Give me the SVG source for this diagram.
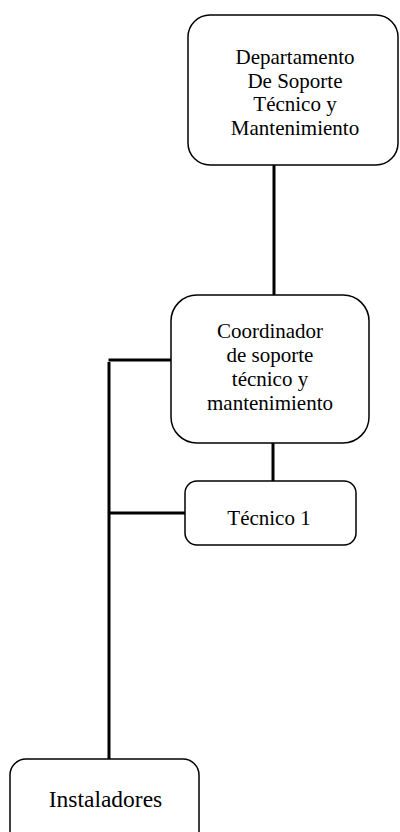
<svg xmlns="http://www.w3.org/2000/svg" width="400" height="832" viewBox="0 0 400 832">
<style>
.box{fill:#fff;stroke:#000;stroke-width:1.5}
.ln{stroke:#000;stroke-width:3;fill:none}
text{font-family:"Liberation Serif","Times New Roman",serif;font-size:21px;fill:#000;text-anchor:middle}
.big{font-size:23.5px}
</style>
<rect width="400" height="832" fill="#fff"/>
<g id="connectors">
<line class="ln" x1="274" y1="165" x2="274" y2="295"/>
<line class="ln" x1="273" y1="443" x2="273" y2="481"/>
<line class="ln" x1="108.5" y1="360" x2="171" y2="360"/>
<line class="ln" x1="110" y1="513" x2="185" y2="513"/>
<line class="ln" x1="109" y1="362" x2="109" y2="759"/>
</g>
<g id="departamento">
<rect class="box" x="188" y="15" width="210" height="150" rx="22"/>
<text x="295" y="64">Departamento</text>
<text x="295" y="87.5">De Soporte</text>
<text x="295" y="111">Técnico y</text>
<text x="295" y="134.5">Mantenimiento</text>
</g>
<g id="coordinador">
<rect class="box" x="171" y="295" width="198" height="148" rx="26"/>
<text x="270" y="338">Coordinador</text>
<text x="270" y="362">de soporte</text>
<text x="270" y="386">técnico y</text>
<text x="270" y="410">mantenimiento</text>
</g>
<g id="tecnico1">
<rect class="box" x="185" y="481" width="171" height="64" rx="12"/>
<text x="269" y="525">Técnico 1</text>
</g>
<g id="instaladores">
<rect class="box" x="10" y="759" width="189" height="100" rx="16"/>
<text class="big" x="105.5" y="807">Instaladores</text>
</g>
</svg>
